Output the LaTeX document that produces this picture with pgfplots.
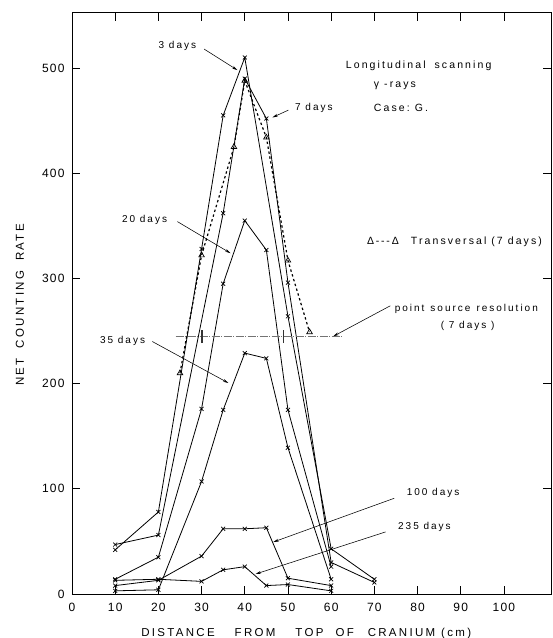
\documentclass[border=0pt]{standalone}
\usepackage{fontspec}
\setmainfont{Liberation Sans}
\newfontfamily\lab[LetterSpace=20]{Liberation Sans}
\newfontfamily\num[LetterSpace=10]{Liberation Sans}
\usepackage{pgfplots}
\pgfplotsset{compat=1.18}
\usetikzlibrary{arrows.meta}

% net counting rate versus distance, one series per day count
\pgfplotstableread{
x y
10 42
20 78
30 328
35 455
40 510
50 264
60 43
70 14
}\daysthree
\pgfplotstableread{
x y
10 47
20 56
35 362
40 490
45 452
50 296
60 30
70 11
}\daysseven
\pgfplotstableread{
x y
10 14
20 35
30 176
35 295
40 355
45 327
50 175
60 26
}\daystwenty
\pgfplotstableread{
x y
10 3
20 4
30 107
35 175
40 229
45 224
50 139
60 14
}\daysthirtyfive
\pgfplotstableread{
x y
10 8
20 13
30 36
35 62
40 62
45 63
50 15
60 8
}\dayshundred
\pgfplotstableread{
x y
10 13
20 14
30 12
35 23
40 26
45 8
50 9
60 3
}\daystwothirtyfive
\pgfplotstableread{
x y
25 210
30 322
37.5 425
40 488
45 434
50 317
55 249
}\transversal

\tikzset{
  pen/.style={black, line width=0.8pt, mark=x, mark size=2.8pt,
              mark options={solid, line width=0.7pt}},
  callout/.style={-{Stealth[length=5.5pt,width=2.8pt]}, line width=0.55pt, black},
  note/.style={font=\fontsize{10}{12}\lab},
}

\begin{document}
\begin{tikzpicture}[x=1pt,y=1pt]
\path[use as bounding box] (-72,-44) rectangle (481,594);
\begin{axis}[
  at={(0,0)}, anchor=south west,
  scale only axis, width=479pt, height=581.3pt,
  xmin=0, xmax=110.9, ymin=0, ymax=552.6,
  clip=false,
  xtick={0,10,...,100}, ytick={0,100,...,500},
  xtick pos=both, ytick pos=both,
  tick align=inside,
  major tick length=8.5pt,
  tick style={black, line width=0.7pt},
  axis line style={line width=0.9pt},
  ticklabel style={font=\fontsize{12}{13}\num},
  x tick label style={yshift=-6pt},
  y tick label style={xshift=-4pt},
  /pgf/number format/assume math mode=true,
]

\addplot[pen] table {\daysthree};
\addplot[pen] table {\daysseven};
\addplot[pen] table {\daystwenty};
\addplot[pen] table {\daysthirtyfive};
\addplot[pen] table {\dayshundred};
\addplot[pen] table {\daystwothirtyfive};
\addplot[black, line width=1.2pt, dash pattern=on 2.4pt off 2.6pt,
         mark=triangle, mark size=3.2pt, mark options={solid, line width=0.7pt}]
  table {\transversal};

% point source resolution (7 days)
\addplot[black!55, line width=1pt, dash pattern=on 8pt off 1.5pt on 1pt off 1.5pt]
  coordinates {(24,244.6) (62.8,244.6)};
\addplot[black!80, line width=1.2pt] coordinates {(30.1,238.6) (30.1,251)};
\addplot[black!80, line width=1.2pt] coordinates {(49.0,238.6) (49.0,251)};

% curve labels
\node[note] at (axis cs:24.4,521) {3 days};
\draw[callout] (axis cs:30.6,518) -- (axis cs:38.3,498);
\node[note] at (axis cs:56.0,462) {7 days};
\draw[callout] (axis cs:50.1,460) -- (axis cs:46.4,453);
\node[note] at (axis cs:16.8,356) {20 days};
\draw[callout] (axis cs:24.4,354) -- (axis cs:36.7,324);
\node[note] at (axis cs:11.7,241) {35 days};
\draw[callout] (axis cs:18.6,240) -- (axis cs:36.2,200.6);
\node[note] at (axis cs:83.6,96) {100 days};
\draw[callout] (axis cs:74.6,91) -- (axis cs:46.6,49.4);
\node[note] at (axis cs:81.6,64) {235 days};
\draw[callout] (axis cs:72.6,59) -- (axis cs:42.5,19);

% case description
\node[font=\fontsize{10.5}{12}\lab, anchor=west] at (axis cs:62.6,502) {Longitudinal\hspace{9pt}scanning};
\node[font=\fontsize{10.5}{12}\lab, anchor=west] at (axis cs:69.1,483) {γ -rays};
\node[font=\fontsize{10.5}{12}\lab, anchor=west] at (axis cs:69.1,462) {Case:\hspace{5pt}G.};

\node[font=\fontsize{10.5}{12}\lab, anchor=west] at (axis cs:67.5,334.6)
  {Δ\,-\,-\,-Δ\hspace{12pt}Transversal\hspace{5pt}(7 days)};

\node[note] at (axis cs:91.3,271) {point\hspace{6pt}source\hspace{6pt}resolution};
\node[note] at (axis cs:91.6,255) {( 7 days )};
\draw[callout] (axis cs:73.7,274) -- (axis cs:60.5,245);

% axis titles
\node[font=\fontsize{11.5}{13}\lab, yshift=-40pt] at (rel axis cs:0.489,0)
  {DISTANCE\hspace{20pt}FROM\hspace{20pt}TOP\hspace{12pt}OF\hspace{14pt}CRANIUM\hspace{6pt}(cm)};
\node[font=\fontsize{11.5}{13}\lab, rotate=90] at ([xshift=-52pt]rel axis cs:0,0.497)
  {NET\hspace{10pt}COUNTING\hspace{10pt}RATE};
\end{axis}
\end{tikzpicture}
\end{document}
